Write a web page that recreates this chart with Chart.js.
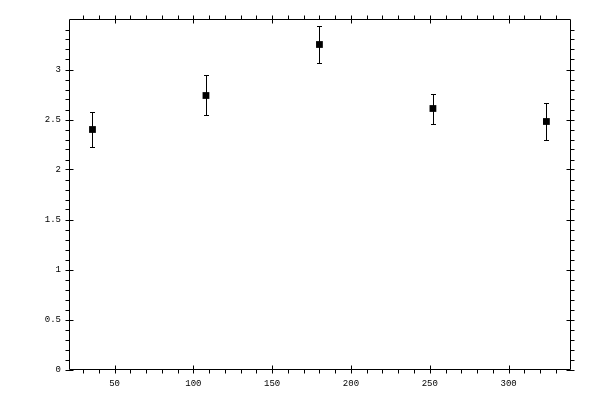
<!DOCTYPE html>
<html>
<head>
<meta charset="utf-8">
<script src="https://cdn.jsdelivr.net/npm/chart.js@4"></script>
<style>
    html, body { margin: 0; padding: 0; background: #fff; }
    #wrap { width: 600px; height: 400px; }
</style>
</head>
<body>
<div id="wrap"><canvas id="chart" width="600" height="400"></canvas></div>
<script>
// Data
const xValues = [36, 108, 180, 252, 324];
const yValues = [2.40, 2.74, 3.25, 2.61, 2.48];
const yErrors = [0.17, 0.20, 0.18, 0.15, 0.18];

// Axis ticks
const xMajorTicks = [50, 100, 150, 200, 250, 300];
const xTickLabels = ['50', '100', '150', '200', '250', '300'];
const xMinorTicks = [30, 40, 60, 70, 80, 90, 110, 120, 130, 140, 160, 170, 180, 190,
    210, 220, 230, 240, 260, 270, 280, 290, 310, 320, 330];
const yMajorTicks = [0, 0.5, 1, 1.5, 2, 2.5, 3];
const yTickLabels = ['0', '0.5', '1', '1.5', '2', '2.5', '3'];
const yMinorTicks = [0.1, 0.2, 0.3, 0.4, 0.6, 0.7, 0.8, 0.9, 1.1, 1.2, 1.3, 1.4,
    1.6, 1.7, 1.8, 1.9, 2.1, 2.2, 2.3, 2.4, 2.6, 2.7, 2.8, 2.9, 3.1, 3.2, 3.3, 3.4];

const FONT = { family: '"Liberation Mono", "DejaVu Sans Mono", monospace', size: 9 };

// Draw error bars under the markers
const errorBars = {
    id: 'errorBars',
    beforeDatasetsDraw(chart) {
        const { ctx, scales: { x, y } } = chart;
        ctx.save();
        ctx.strokeStyle = '#000';
        ctx.lineWidth = 1;
        xValues.forEach((xv, i) => {
            const px = Math.round(x.getPixelForValue(xv)) + 0.5;
            const top = Math.round(y.getPixelForValue(yValues[i] + yErrors[i])) + 0.5;
            const bot = Math.round(y.getPixelForValue(yValues[i] - yErrors[i])) + 0.5;
            ctx.beginPath();
            ctx.moveTo(px, top);
            ctx.lineTo(px, bot);
            ctx.moveTo(px - 2.5, top);
            ctx.lineTo(px + 2.5, top);
            ctx.moveTo(px - 2.5, bot);
            ctx.lineTo(px + 2.5, bot);
            ctx.stroke();
        });
        ctx.restore();
    }
};

// Frame with ticks on all four sides
const frameTicks = {
    id: 'frameTicks',
    afterDraw(chart) {
        const { ctx, chartArea: a, scales: { x, y } } = chart;
        const L = Math.round(a.left) + 0.5;
        const R = Math.round(a.right) - 0.5;
        const T = Math.round(a.top) + 0.5;
        const B = Math.round(a.bottom) - 0.5;
        ctx.save();
        ctx.strokeStyle = '#000';
        ctx.lineWidth = 1;
        ctx.beginPath();
        ctx.rect(L, T, R - L, B - T);

        xMinorTicks.forEach(v => {
            const px = Math.round(x.getPixelForValue(v)) + 0.5;
            ctx.moveTo(px, B); ctx.lineTo(px, B + 4);
            ctx.moveTo(px, T); ctx.lineTo(px, T - 4);
        });
        xMajorTicks.forEach(v => {
            const px = Math.round(x.getPixelForValue(v)) + 0.5;
            ctx.moveTo(px, B - 4); ctx.lineTo(px, B + 4);
            ctx.moveTo(px, T - 4); ctx.lineTo(px, T + 4);
        });
        yMinorTicks.forEach(v => {
            const py = Math.round(y.getPixelForValue(v)) + 0.5;
            ctx.moveTo(L, py); ctx.lineTo(L - 4, py);
            ctx.moveTo(R, py); ctx.lineTo(R + 4, py);
        });
        yMajorTicks.forEach(v => {
            const py = Math.round(y.getPixelForValue(v)) + 0.5;
            ctx.moveTo(L - 4, py); ctx.lineTo(L + 4, py);
            ctx.moveTo(R - 4, py); ctx.lineTo(R + 4, py);
        });
        ctx.stroke();
        ctx.restore();
    }
};

new Chart(document.getElementById('chart'), {
    type: 'scatter',
    data: {
        datasets: [{
            data: xValues.map((xv, i) => ({ x: xv, y: yValues[i] })),
            pointStyle: 'rect',
            pointRadius: 4.8,
            pointHoverRadius: 4.8,
            backgroundColor: '#000',
            borderColor: '#000',
            borderWidth: 0
        }]
    },
    options: {
        responsive: false,
        animation: false,
        devicePixelRatio: 1,
        layout: { padding: { top: 19, right: 29, left: 0, bottom: 0 } },
        plugins: {
            legend: { display: false },
            tooltip: { enabled: false }
        },
        scales: {
            x: {
                type: 'linear',
                min: 21.1,
                max: 339.6,
                afterBuildTicks: scale => { scale.ticks = xMajorTicks.map(v => ({ value: v })); },
                afterFit: scale => { scale.height = 30; },
                grid: { display: false, drawTicks: false },
                border: { display: false },
                ticks: {
                    font: FONT, color: '#000', padding: 8, maxRotation: 0,
                    callback: (value, index) => xTickLabels[index]
                }
            },
            y: {
                type: 'linear',
                min: -0.005,
                max: 3.505,
                afterBuildTicks: scale => { scale.ticks = yMajorTicks.map(v => ({ value: v })); },
                afterFit: scale => { scale.width = 69; },
                grid: { display: false, drawTicks: false },
                border: { display: false },
                ticks: {
                    font: FONT, color: '#000', padding: 8,
                    callback: (value, index) => yTickLabels[index]
                }
            }
        }
    },
    plugins: [errorBars, frameTicks]
});
</script>
</body>
</html>
